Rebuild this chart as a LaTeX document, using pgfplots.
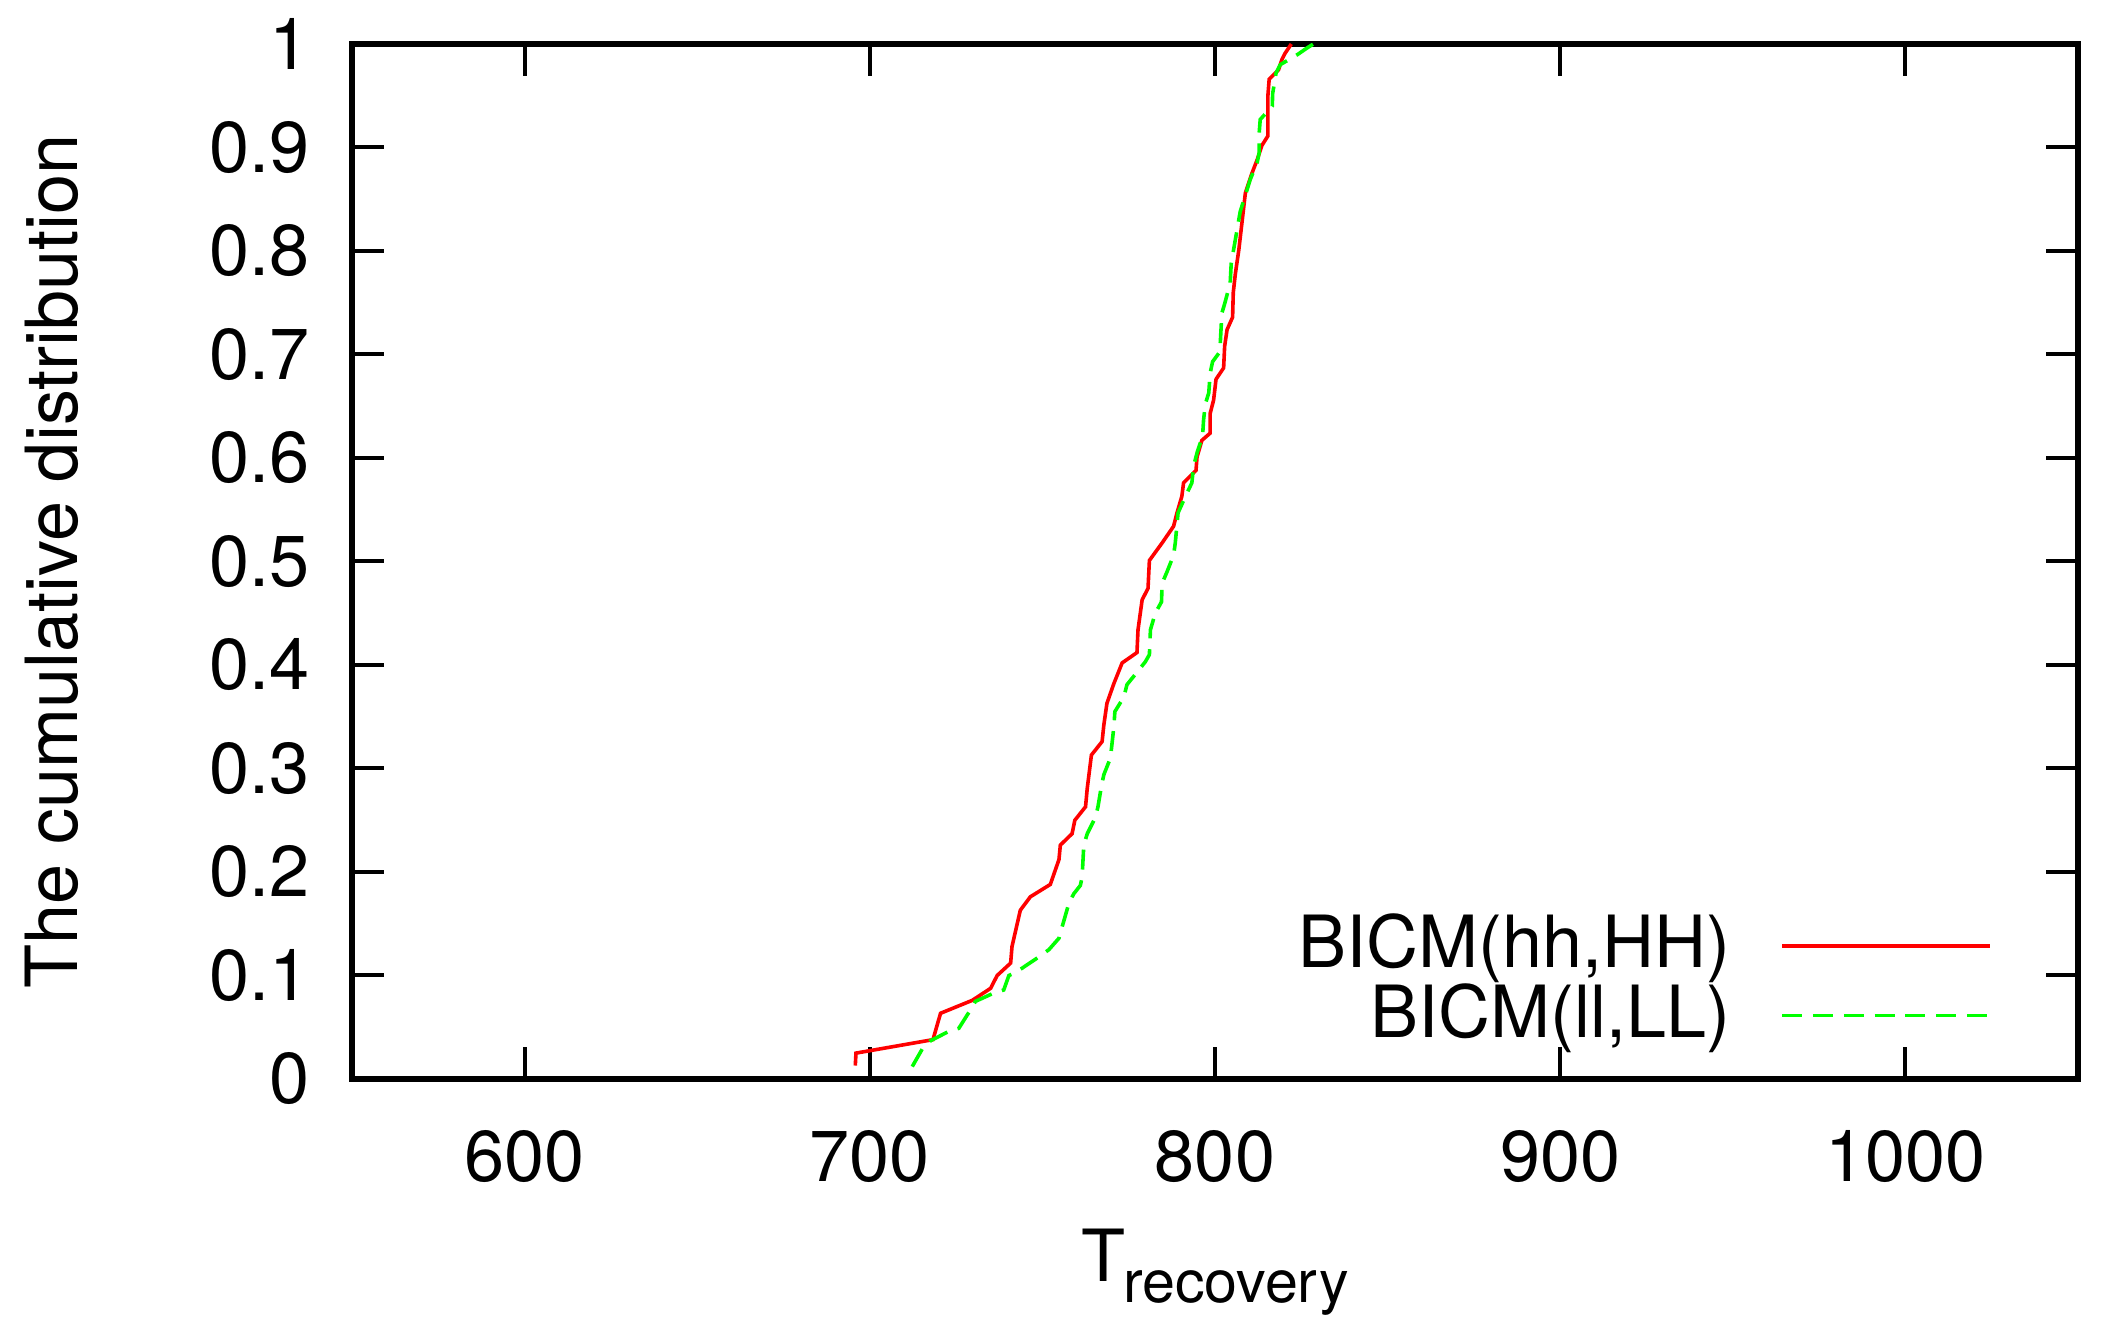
\documentclass[border=0pt]{standalone}
\usepackage{fontspec}
\setmainfont{TeX Gyre Heros}
\usepackage{pgfplots}
\pgfplotsset{compat=1.18}
\definecolor{gpred}{RGB}{255,0,0}
\definecolor{gpgreen}{RGB}{0,255,0}
\begin{document}
\fontsize{18}{21.6}\selectfont
\begin{tikzpicture}
\useasboundingbox (-88pt,-64.5pt) rectangle (437.25pt,269.75pt);
\begin{axis}[
  at={(0pt,0pt)}, anchor=south west,
  scale only axis, width=431.5pt, height=258.75pt,
  xmin=550, xmax=1050, ymin=0, ymax=1,
  xtick={600,700,800,900,1000},
  ytick={0,0.1,0.2,0.3,0.4,0.5,0.6,0.7,0.8,0.9,1},
  yticklabels={0,0.1,0.2,0.3,0.4,0.5,0.6,0.7,0.8,0.9,1},
  tick align=inside,
  major tick length=8pt,
  every tick/.style={black, line width=1pt},
  axis line style={line width=1.5pt},
  /pgf/number format/assume math mode=true,
  /pgf/number format/1000 sep={},
  tick label style={font=\fontsize{18}{21.6}\selectfont},
  yticklabel style={xshift=-4.5pt},
  xticklabel style={yshift=-6.75pt},
  every axis y label/.style={at={([xshift=-75pt]rel axis cs:0,0.5)}, rotate=90, anchor=center},
  every axis x label/.style={at={([yshift=-37.25pt]rel axis cs:0.5,0)}, anchor=north, inner sep=0pt},
  ylabel={The cumulative distribution},
  xlabel={T\kern-0.5pt\raisebox{-5.25pt}{\fontsize{14.8}{17}\selectfont recovery}},
  legend style={draw=none, fill=none, at={(rel axis cs:1,0)}, anchor=south east,
    xshift=-21.5pt, yshift=7.75pt, inner sep=0pt, outer sep=0pt,
    row sep=1.3pt, column sep=12.5pt,
    font=\fontsize{18}{21.6}\selectfont,
    nodes={inner sep=0pt, outer sep=0pt}},
  legend cell align=right,
  legend plot pos=right,
  legend image code/.code={\draw[#1] (0pt,0pt) -- (52pt,0pt);},
]
\addplot[gpred, line width=0.9pt, sharp plot] coordinates {
(695.8,0.013) (696.0,0.025) (718.3,0.038) (720.5,0.0635) (729.7,0.076)
(735.0,0.0876) (736.9,0.100) (740.8,0.112) (741.2,0.128) (743.6,0.163)
(746.5,0.176) (752.3,0.188) (754.8,0.212) (755.2,0.226) (758.6,0.237)
(759.4,0.250) (762.5,0.263) (763.0,0.281) (764.2,0.313) (767.3,0.326)
(767.8,0.342) (768.7,0.363) (770.7,0.382) (773.1,0.402) (777.4,0.412)
(777.7,0.434) (778.9,0.463) (780.6,0.474) (781.0,0.501) (784.7,0.518)
(788.0,0.534) (789.0,0.547) (790.4,0.563) (790.9,0.576) (793.3,0.584)
(794.5,0.588) (794.8,0.601) (796.2,0.617) (798.6,0.624) (798.6,0.643)
(799.6,0.656) (800.3,0.676) (802.5,0.687) (802.8,0.708) (803.5,0.724)
(805.1,0.736) (805.3,0.760) (805.9,0.778) (806.9,0.801) (807.8,0.827)
(808.8,0.856) (810.7,0.875) (812.2,0.888) (813.6,0.902) (815.3,0.911)
(815.3,0.949) (815.7,0.966) (818.4,0.975) (819.4,0.985) (820.3,0.991)
(822.1,1.0)
};
\addlegendentry{BICM(hh,HH)}
\addplot[gpgreen, line width=0.9pt, sharp plot, dash pattern=on 5pt off 2.7pt] coordinates {
(712.3,0.012) (715.2,0.029) (717.6,0.037) (722.9,0.046) (725.8,0.049)
(729.2,0.067) (730.6,0.075) (735.9,0.083) (738.8,0.086) (740.3,0.100)
(741.7,0.102) (744.1,0.107) (749.0,0.118) (751.9,0.125) (754.8,0.136)
(755.2,0.141) (757.7,0.170) (759.1,0.179) (761.0,0.187) (761.5,0.195)
(762.0,0.226) (763.0,0.237) (765.4,0.253) (766.1,0.263) (767.1,0.283)
(767.8,0.294) (769.7,0.310) (770.7,0.340) (771.0,0.355) (773.6,0.369)
(774.5,0.381) (777.9,0.395) (779.8,0.403) (781.0,0.410) (781.3,0.434)
(782.7,0.450) (784.5,0.461) (784.7,0.479) (786.1,0.490) (788.0,0.506)
(788.5,0.518) (789.3,0.547) (791.6,0.564) (793.3,0.576) (793.8,0.592)
(794.8,0.605) (796.4,0.621) (796.7,0.637) (797.2,0.652) (798.2,0.663)
(798.6,0.682) (799.3,0.693) (801.5,0.703) (801.5,0.709) (802.0,0.740)
(802.8,0.749) (804.4,0.769) (804.7,0.788) (805.9,0.811) (807.3,0.838)
(809.0,0.856) (810.2,0.869) (812.2,0.885) (812.8,0.895) (812.8,0.914)
(813.1,0.927) (816.6,0.940) (816.7,0.952) (817.7,0.972) (818.9,0.980)
(824.0,0.990) (826.6,0.996) (828.5,1.0)
};
\addlegendentry{BICM(ll,LL)}
\end{axis}
\end{tikzpicture}
\end{document}
